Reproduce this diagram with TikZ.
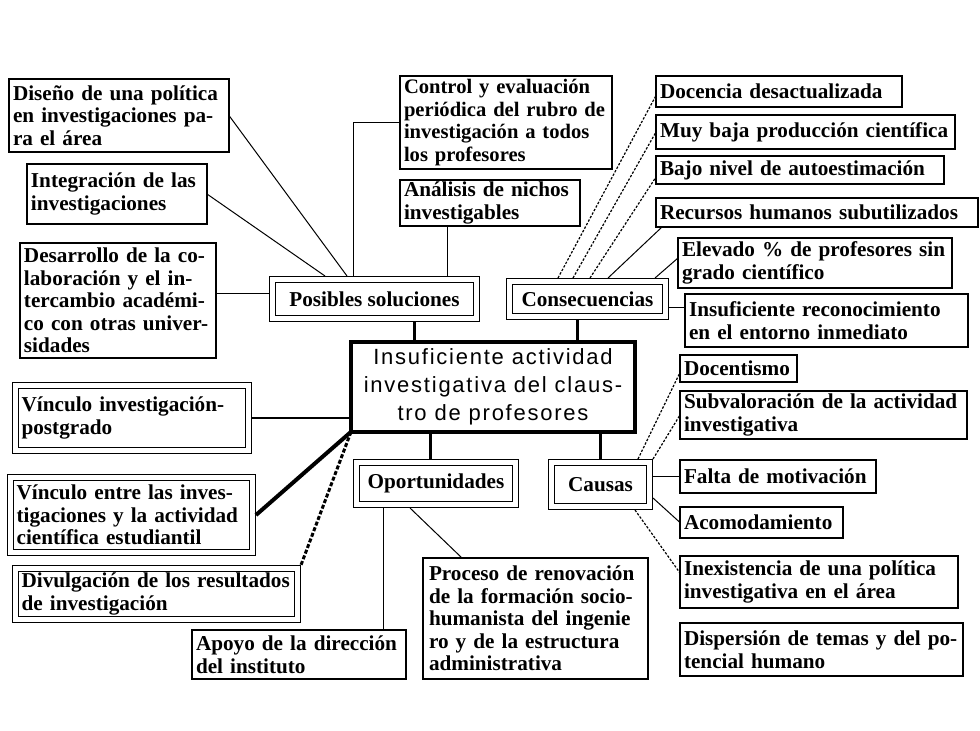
\documentclass[tikz,border=0pt]{standalone}
\usepackage{fontspec}
\setmainfont{Liberation Serif}
\newfontfamily\centro[LetterSpace=8]{Liberation Sans}
\usepackage{tikz}

\begin{document}
\begin{tikzpicture}[x=0.5pt,y=-0.5pt,
    caja/.style={draw,line width=0.6pt,anchor=north west,align=left,outer sep=0pt,
        inner xsep=2pt,inner ysep=1pt,font=\bfseries\fontsize{10.6}{11.25}\selectfont,
        execute at begin node={\rightskip=0pt plus 1fil minus 20pt\hyphenpenalty=10000}},
    doble/.style={caja,double,double distance=2.4pt,outer sep=1.8pt,inner xsep=3pt},
    fino/.style={line width=0.5pt},
    punt/.style={line width=0.6pt,dash pattern=on 1.2pt off 0.8pt},
    grueso/.style={line width=1.5pt}]
\fill[white] (0,0) rectangle (980,730);
% centro
\node [draw,line width=2pt,anchor=north west,outer sep=0pt,align=center,
    minimum width=142pt,minimum height=44pt,font=\centro\fontsize{11}{14}\selectfont]
    (cen) at (351,342) {Insuficiente actividad\\investigativa del claus-\\tro de profesores};
% soluciones
\node [doble,align=center,minimum width=101.9pt,minimum height=19.4pt] (sol) at (269,276) {Posibles soluciones};
\node [caja,text width=106pt,minimum height=36.5pt] (dis) at (9,79) {Diseño de una política\\en investigaciones pa-\\ra el área};
\node [caja,text width=86pt,minimum height=30pt] (integ) at (27,164) {Integración de las\\investigaciones};
\node [caja,text width=94pt,minimum height=57.5pt] (desa) at (20,243) {Desarrollo de la co-\\laboración y el in-\\tercambio académi-\\co con otras univer-\\sidades};
\node [caja,text width=102pt,minimum height=46.5pt,font=\bfseries\fontsize{10.3}{11.25}\selectfont] (ctrl) at (400,76) {Control y evaluación\\periódica del rubro de\\investigación a todos\\los profesores};
\node [caja,text width=86pt,minimum height=22.5pt] (anal) at (400,180) {Análisis de nichos\\investigables};
% consecuencias
\node [doble,align=center,minimum width=77.9pt,minimum height=17.4pt] (cons) at (506,278) {Consecuencias};
\node [caja,text width=119pt,minimum height=15.5pt] (doc) at (656,76) {Docencia desactualizada};
\node [caja,text width=145.5pt,minimum height=17pt] (muy) at (656,115) {Muy baja producción científica};
\node [caja,text width=140pt,minimum height=14pt] (bajo) at (656,156) {Bajo nivel de autoestimación};
\node [caja,text width=157pt,minimum height=14.5pt] (recu) at (656,198) {Recursos humanos subutilizados};
\node [caja,text width=133pt,minimum height=25pt] (elev) at (678,238) {Elevado \% de profesores sin\\grado científico};
\node [caja,text width=137.5pt,minimum height=26.5pt] (insu) at (685,294) {Insuficiente reconocimiento\\en el entorno inmediato};
% causas
\node [doble,align=center,minimum width=48.9pt,minimum height=21.9pt] (caus) at (548,459) {Causas};
\node [caja,text width=54.5pt,minimum height=13.5pt] (docen) at (680,355) {Docentismo};
\node [caja,text width=139.5pt,minimum height=24pt] (subv) at (680,391) {Subvaloración de la actividad\\investigativa};
\node [caja,text width=94pt,minimum height=16.5pt] (falta) at (680,460) {Falta de motivación};
\node [caja,text width=77.5pt,minimum height=15.5pt] (acom) at (680,507) {Acomodamiento};
\node [caja,text width=135pt,minimum height=26pt] (inex) at (680,556) {Inexistencia de una política\\investigativa en el área};
\node [caja,text width=137.5pt,minimum height=26.5pt] (disp) at (680,623) {Dispersión de temas y del po-\\tencial humano};
% oportunidades
\node [doble,align=center,minimum width=79.4pt,minimum height=20.9pt] (opor) at (353,459) {Oportunidades};
\node [caja,text width=103pt,minimum height=24.5pt] (apoyo) at (192,630) {Apoyo de la dirección\\del instituto};
\node [caja,inner xsep=3pt,text width=106.5pt,minimum height=60.5pt] (proc) at (423,558)
    {\makebox[\hsize][s]{Proceso de renovación}\\\makebox[\hsize][s]{de la formación socio-}\\\makebox[\hsize][s]{humanista del ingenie}\\\makebox[\hsize][s]{ro y de la estructura}\\administrativa};
% izquierda
\node [doble,text width=110.4pt,minimum height=32.4pt] (vinc1) at (12,382) {Vínculo investigación-\\postgrado};
\node [doble,text width=114.9pt,minimum height=37.4pt] (vinc2) at (7,474) {Vínculo entre las inves-\\tigaciones y la actividad\\científica estudiantil};
\node [doble,text width=134.9pt,minimum height=25.4pt] (divu) at (12,565) {Divulgación de los resultados\\de investigación};

\coordinate (a1) at ([xshift=23.5pt]anal.south west);
\coordinate (s1) at ([yshift=3pt]sol.west);
\coordinate (s0) at ([xshift=-33pt]sol.south east);
\coordinate (c0) at ([xshift=-5pt]cons.south);
\coordinate (c1) at ([yshift=-4pt]cons.east);
\coordinate (o0) at ([xshift=-3pt]opor.north);
\coordinate (o1) at ([xshift=15pt]opor.south west);
\draw[fino] (dis.east) -- ([xshift=39pt]sol.north west);
\draw[fino] (integ.east) -- ([xshift=28pt]sol.north west);
\draw[fino] (s1) -- (s1 -| desa.east);
\draw[fino] ([xshift=42pt]sol.north west) |- (ctrl.west);
\draw[fino] (a1) -- (a1 |- sol.north);
\draw[grueso] (s0) -- (s0 |- cen.north);
\draw[grueso] (c0) -- (c0 |- cen.north);
\draw[grueso] (o0) -- (o0 |- cen.south);
\draw[grueso] (caus.north) -- (caus.north |- cen.south);
\draw[punt] ([xshift=26pt]cons.north west) -- ([yshift=-2pt]doc.west);
\draw[punt] ([xshift=33.5pt]cons.north west) -- (muy.west);
\draw[punt] ([xshift=42pt]cons.north west) -- ([yshift=-3.5pt]bajo.west);
\draw[fino] ([xshift=51pt]cons.north west) -- ([xshift=3pt]recu.south west);
\draw[fino] ([xshift=-7pt]cons.north east) -- ([yshift=2.5pt]elev.west);
\draw[fino] (c1) -- (c1 -| insu.west);
\draw[punt] ([xshift=-7.5pt]caus.north east) -- ([yshift=-2pt]docen.west);
\draw[punt] (caus.north east) -- (subv.west);
\draw[fino] (falta.west) -- (falta.west -| caus.east);
\draw[fino] ([yshift=6pt]caus.south east) -- (acom.west);
\draw[punt] ([xshift=-9pt]caus.south east) -- ([yshift=4.5pt]inex.west);
\draw[fino] (o1) -- (o1 |- apoyo.north);
\draw[fino] ([xshift=28.5pt]opor.south west) -- ([xshift=19.5pt]proc.north west);
\draw[line width=1pt] (vinc1.east) -- (vinc1.east -| cen.west);
\draw[line width=2pt] (cen.south west) -- (vinc2.east);
\draw[line width=1.5pt,dash pattern=on 2pt off 1pt] (cen.south west) -- (divu.north east);
\end{tikzpicture}
\end{document}
